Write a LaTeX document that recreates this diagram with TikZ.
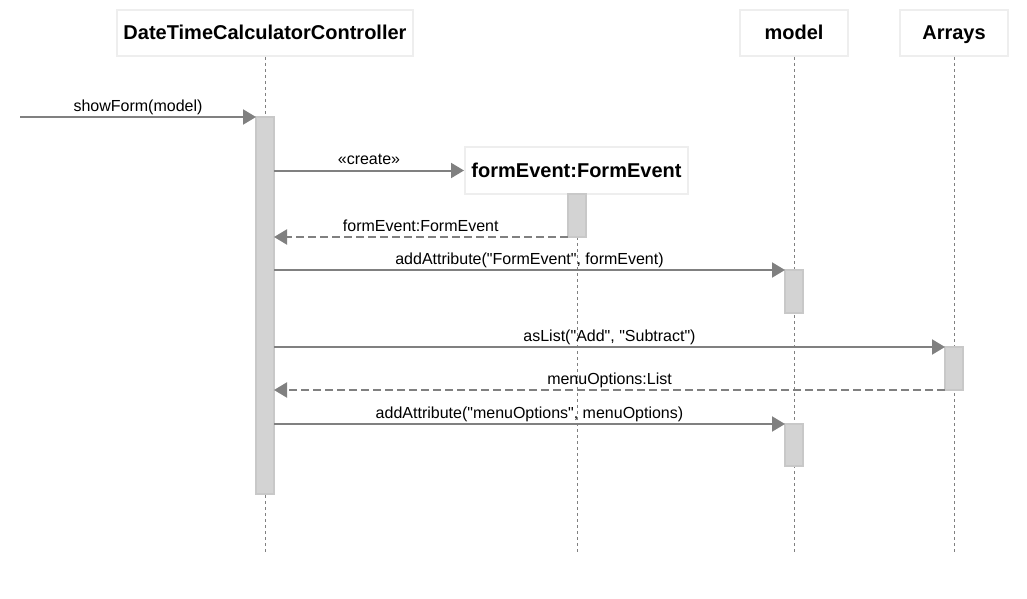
\documentclass[tikz,border=0pt]{standalone}
\usepackage{fontspec}
\setmainfont{Liberation Sans}[Ligatures=TeXOff]
\usetikzlibrary{arrows.meta}
\definecolor{msggray}{RGB}{128,128,128}
\definecolor{barfill}{RGB}{211,211,211}
\definecolor{bardraw}{RGB}{200,200,200}
\definecolor{headdraw}{RGB}{238,238,238}

\begin{document}
\begin{tikzpicture}[x=1pt,y=-1pt]
\tikzset{
  lifehead/.style={rectangle,draw=headdraw,line width=2pt,fill=white,minimum height=46pt,inner sep=0pt,text height=18pt,text depth=4pt,font=\fontsize{20}{24}\selectfont\bfseries},
  lifeline/.style={draw=msggray,line width=1pt,dash pattern=on 3pt off 3pt},
  actbar/.style={rectangle,draw=bardraw,fill=barfill,line width=2pt,minimum width=18pt,inner sep=0pt,outer sep=0pt},
  msg/.style={draw=msggray,line width=2pt,-{Triangle[length=13pt,width=15pt]}},
  reply/.style={msg,dash pattern=on 8pt off 4pt},
  msglabel/.style={anchor=south,inner sep=1.5pt,text height=11.5pt,text depth=3.4pt,font=\fontsize{16}{19}\selectfont}
}
\useasboundingbox (0,0) rectangle (1027,599);
% heads
\node[lifehead,minimum width=296pt] (h_ctrl) at (265,33) {DateTimeCalculatorController};
\node[lifehead,minimum width=108pt] (h_model) at (794,33) {model};
\node[lifehead,minimum width=108pt] (h_arrays) at (954,33) {Arrays};
\node[lifehead,minimum width=223pt,minimum height=47pt] (h_form) at (576.5,170.5) {formEvent:FormEvent};
% lifelines
\coordinate (e_ctrl) at (265,552);
\coordinate (e_form) at (577,552);
\coordinate (e_model) at (794,552);
\coordinate (e_arrays) at (954,552);
\draw[lifeline] (h_ctrl.south) -- (e_ctrl);
\draw[lifeline] (h_form.south -| e_form) -- (e_form);
\draw[lifeline] (h_model.south) -- (e_model);
\draw[lifeline] (h_arrays.south) -- (e_arrays);
% activations
\node[actbar,minimum height=377pt] (a_ctrl) at (265,305.5) {};
\node[actbar,minimum height=43pt] (a_form) at (576.5,215.5) {};
\node[actbar,minimum height=43pt] (a_mod1) at (794,291.5) {};
\node[actbar,minimum height=43pt] (a_arr) at (954,368.5) {};
\node[actbar,minimum height=42pt] (a_mod2) at (794,445) {};
% messages
\coordinate (c_start) at (20,117);
\draw[msg] (c_start) -- (a_ctrl.north west) node[midway,msglabel] {showForm(model)};
\draw[msg] (a_ctrl.east |- h_form.west) -- (h_form.west) node[midway,msglabel] {«create»};
\draw[reply] (a_form.south west) -- (a_form.south west -| a_ctrl.east) node[midway,msglabel] {formEvent:FormEvent};
\draw[msg] (a_ctrl.east |- a_mod1.north west) -- (a_mod1.north west) node[midway,msglabel] {addAttribute("FormEvent", formEvent)};
\draw[msg] (a_ctrl.east |- a_arr.north west) -- (a_arr.north west) node[midway,msglabel] {asList("Add", "Subtract")};
\draw[reply] (a_arr.south west) -- (a_arr.south west -| a_ctrl.east) node[midway,msglabel] {menuOptions:List};
\draw[msg] (a_ctrl.east |- a_mod2.north west) -- (a_mod2.north west) node[midway,msglabel] {addAttribute("menuOptions", menuOptions)};
\end{tikzpicture}
\end{document}
